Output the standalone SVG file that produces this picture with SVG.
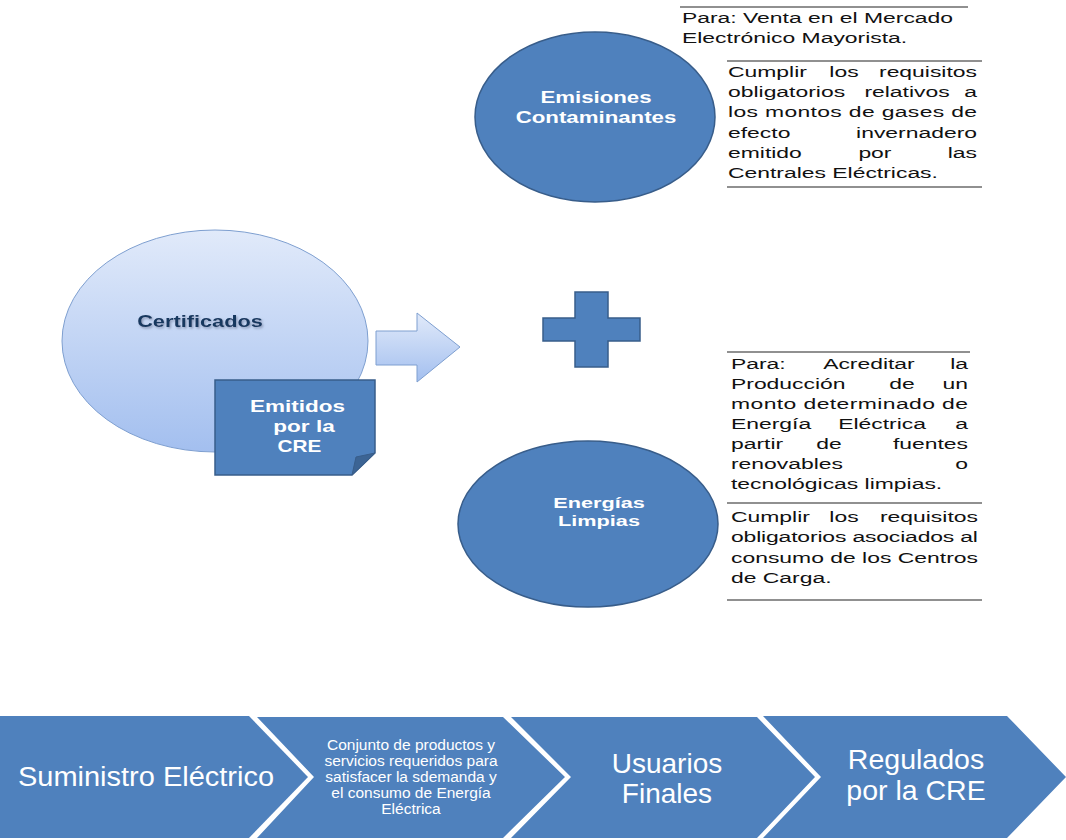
<svg xmlns="http://www.w3.org/2000/svg" width="1066" height="840" viewBox="0 0 1066 840">
<defs>
<linearGradient id="lightGrad" x1="0" y1="0" x2="0" y2="1">
<stop offset="0" stop-color="#E1EAFA"/>
<stop offset="1" stop-color="#A3BFEF"/>
</linearGradient>
<filter id="txtShadow" x="-10%" y="-30%" width="120%" height="160%">
<feDropShadow dx="1" dy="1.5" stdDeviation="1" flood-color="#6C7A99" flood-opacity="0.7"/>
</filter>
<style>
.blue { fill:#4F81BD; stroke:#385D8A; stroke-width:1.5; }
.light { fill:url(#lightGrad); stroke:#7E9FD0; stroke-width:1; }
.chev { fill:#4F81BD; }
.rule { stroke:#222; stroke-width:1.2; fill:none; }
.rt { font-family:"Liberation Sans", Arial, sans-serif; font-size:14.5px; fill:#111; }
.wb { font-family:"Liberation Sans", Arial, sans-serif; font-weight:bold; fill:#FFFFFF; text-anchor:middle; }
.ct { font-family:"Liberation Sans", Arial, sans-serif; fill:#FFFFFF; text-anchor:middle; }
.mid { text-anchor:middle; }
.end { text-anchor:end; }
</style>
</defs>
<rect width="1066" height="840" fill="#FFFFFF"/>

<g id="certificados">
<ellipse class="light" cx="215" cy="341" rx="153" ry="111"/>
<text class="wb" style="fill:#17375E;font-size:17px" filter="url(#txtShadow)" transform="translate(200,327) scale(1.28,1)">Certificados</text>
</g>

<g id="emitidos">
<path class="blue" d="M215,380 L375,380 L375,453 L352,475 L215,475 Z"/>
<path d="M352,475 L356,457 L375,453 Z" fill="#3C6494" stroke="#385D8A" stroke-width="1"/>
<text class="wb" style="font-size:16px" transform="translate(297.5,412) scale(1.41,1)">Emitidos</text>
<text class="wb" style="font-size:16px" transform="translate(304,432) scale(1.41,1)">por la</text>
<text class="wb" style="font-size:16px" transform="translate(299.5,452) scale(1.3,1)">CRE</text>
</g>

<g id="connectors">
<path class="light" d="M376,331 L417,331 L417,313 L460,347 L417,382 L417,365 L376,365 Z"/>
</g>

<g id="plus">
<path class="blue" d="M575,292 H608 V318 H640 V341 H608 V367 H575 V341 H543 V318 H575 Z"/>
</g>

<g id="emisiones">
<ellipse class="blue" cx="595" cy="117" rx="120" ry="85"/>
<text class="wb" style="font-size:16px" transform="translate(596,103) scale(1.39,1)">Emisiones</text>
<text class="wb" style="font-size:16px" transform="translate(596,123) scale(1.39,1)">Contaminantes</text>
</g>

<g id="energias">
<ellipse class="blue" cx="588" cy="524" rx="130" ry="83"/>
<text class="wb" style="font-size:15.5px" transform="translate(599,508) scale(1.4,1)">Energías</text>
<text class="wb" style="font-size:15.5px" transform="translate(599,526) scale(1.4,1)">Limpias</text>
</g>

<g id="texto-venta">
<line class="rule" x1="680" y1="7" x2="968" y2="7"/>
<g transform="translate(682,0) scale(1.58,1)">
<text class="rt" x="0" y="23">Para: Venta en el Mercado</text>
<text class="rt" x="0" y="43">Electrónico Mayorista.</text>
</g>
</g>

<g id="texto-emisiones">
<line class="rule" x1="727" y1="61" x2="982" y2="61"/>
<line class="rule" x1="727" y1="187" x2="982" y2="187"/>
<g transform="translate(728,0) scale(1.58,1)">
<text class="rt" x="0" y="77">Cumplir</text>
<text class="rt mid" x="73.4" y="77">los</text>
<text class="rt end" x="157.6" y="77">requisitos</text>
<text class="rt" x="0" y="97">obligatorios</text>
<text class="rt mid" x="113.3" y="97">relativos</text>
<text class="rt end" x="157.6" y="97">a</text>
<text class="rt" x="0" y="117" textLength="157.6" lengthAdjust="spacing">los montos de gases de</text>
<text class="rt" x="0" y="138">efecto</text>
<text class="rt end" x="157.6" y="138">invernadero</text>
<text class="rt" x="0" y="158">emitido</text>
<text class="rt mid" x="93" y="158">por</text>
<text class="rt end" x="157.6" y="158">las</text>
<text class="rt" x="0" y="178">Centrales Eléctricas.</text>
</g>
</g>

<g id="texto-energias">
<line class="rule" x1="727" y1="352" x2="970" y2="352"/>
<line class="rule" x1="727" y1="503" x2="982" y2="503"/>
<line class="rule" x1="727" y1="600" x2="982" y2="600"/>
<g transform="translate(731,0) scale(1.58,1)">
<text class="rt" x="0" y="369">Para:</text>
<text class="rt mid" x="87.3" y="369">Acreditar</text>
<text class="rt end" x="150" y="369">la</text>
<text class="rt" x="0" y="389">Producción</text>
<text class="rt mid" x="108.2" y="389">de</text>
<text class="rt end" x="150" y="389">un</text>
<text class="rt" x="0" y="409" textLength="150" lengthAdjust="spacing">monto determinado de</text>
<text class="rt" x="0" y="429">Energía</text>
<text class="rt mid" x="95.6" y="429">Eléctrica</text>
<text class="rt end" x="150" y="429">a</text>
<text class="rt" x="0" y="449">partir</text>
<text class="rt mid" x="62" y="449">de</text>
<text class="rt end" x="150" y="449">fuentes</text>
<text class="rt" x="0" y="469">renovables</text>
<text class="rt end" x="150" y="469">o</text>
<text class="rt" x="0" y="489">tecnológicas limpias.</text>
<text class="rt" x="0" y="522">Cumplir</text>
<text class="rt mid" x="71.5" y="522">los</text>
<text class="rt end" x="156.3" y="522">requisitos</text>
<text class="rt" x="0" y="542" textLength="156.3" lengthAdjust="spacing">obligatorios asociados al</text>
<text class="rt" x="0" y="563" textLength="156.3" lengthAdjust="spacing">consumo de los Centros</text>
<text class="rt" x="0" y="583">de Carga.</text>
</g>
</g>

<g id="suministro">
<path class="chev" d="M0,716 L249,716 L308,777 L249,838 L0,838 Z"/>
<text class="ct" style="font-size:27px;text-anchor:start" x="18" y="786" textLength="256" lengthAdjust="spacingAndGlyphs">Suministro Eléctrico</text>
</g>

<g id="conjunto">
<path class="chev" d="M257,717 L503,717 L565,777 L503,838 L257,838 L314,777 Z"/>
<text class="ct" style="font-size:15.5px" x="411" y="750">Conjunto de productos y</text>
<text class="ct" style="font-size:15.5px" x="411" y="766">servicios requeridos para</text>
<text class="ct" style="font-size:15.5px" x="411" y="782">satisfacer la sdemanda y</text>
<text class="ct" style="font-size:15.5px" x="411" y="798">el consumo de Energía</text>
<text class="ct" style="font-size:15.5px" x="411" y="814">Eléctrica</text>
</g>

<g id="usuarios">
<path class="chev" d="M511,717 L757,717 L815,777 L757,838 L511,838 L571,777 Z"/>
<text class="ct" style="font-size:28px" x="667" y="773">Usuarios</text>
<text class="ct" style="font-size:28px" x="667" y="803">Finales</text>
</g>

<g id="regulados">
<path class="chev" d="M763,716 L1007,716 L1066,777 L1007,838 L763,838 L821,777 Z"/>
<text class="ct" style="font-size:28.5px" x="916" y="769">Regulados</text>
<text class="ct" style="font-size:28.5px" x="916" y="800">por la CRE</text>
</g>
</svg>
